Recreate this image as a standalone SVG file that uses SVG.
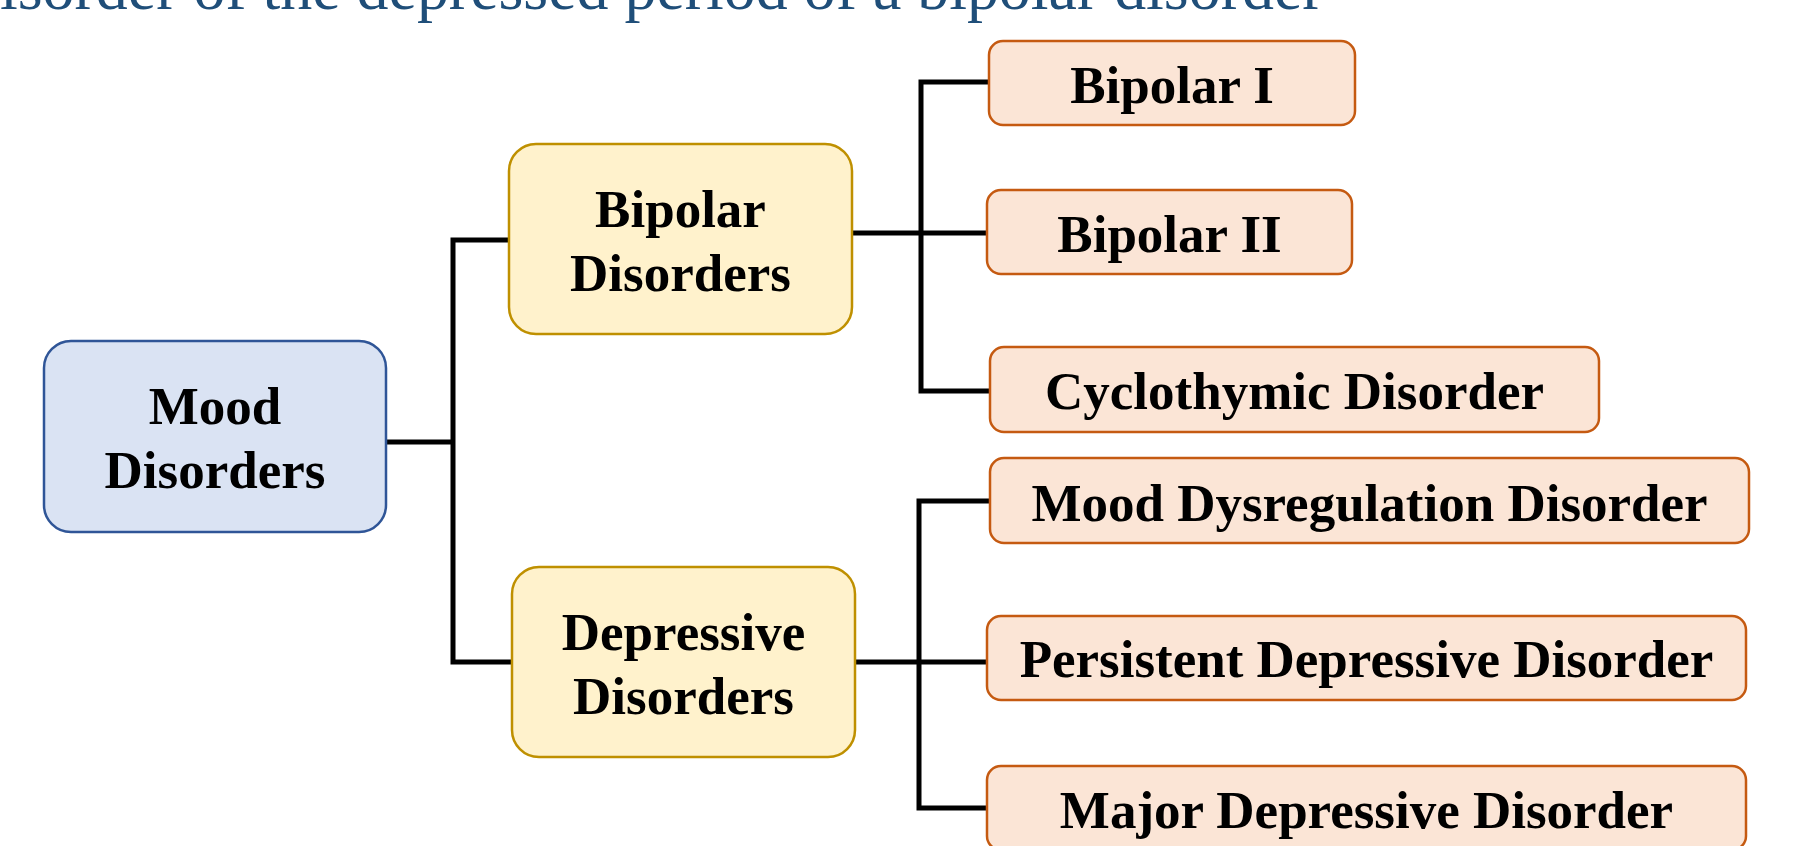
<svg xmlns="http://www.w3.org/2000/svg" width="1817" height="846" viewBox="0 0 1817 846">
<style>
.lbl{font-family:"Liberation Serif","Times New Roman",serif;font-weight:bold;font-size:53px;fill:#000;text-anchor:middle}
.title{font-family:"Liberation Serif","Times New Roman",serif;font-size:63.9px;fill:#1F4E79}
.blue{fill:#DAE3F3;stroke:#2F5597;stroke-width:2.5}
.yel{fill:#FFF2CC;stroke:#BF9000;stroke-width:2.5}
.org{fill:#FBE5D6;stroke:#C55A11;stroke-width:2.5}
.conn{fill:none;stroke:#000;stroke-width:5}
</style>
<rect width="1817" height="846" fill="#fff"/>
<text class="title" x="0" y="9">isorder of the depressed period of a bipolar disorder</text>
<g id="connectors">
<path class="conn" d="M386 442 H453"/>
<path class="conn" d="M509 240 H453 V662 H512"/>
<path class="conn" d="M852 233 H987"/>
<path class="conn" d="M989 82 H921 V391 H990"/>
<path class="conn" d="M855 662 H987"/>
<path class="conn" d="M990 501 H919 V808 H987"/>
</g>
<g id="mood">
<rect class="blue" x="44" y="341" width="342" height="191" rx="27"/>
<text class="lbl" x="215" y="424">Mood</text>
<text class="lbl" x="215" y="488">Disorders</text>
</g>
<g id="bipolar">
<rect class="yel" x="509" y="144" width="343" height="190" rx="27"/>
<text class="lbl" x="680.5" y="227">Bipolar</text>
<text class="lbl" x="680.5" y="291">Disorders</text>
</g>
<g id="depressive">
<rect class="yel" x="512" y="567" width="343" height="190" rx="27"/>
<text class="lbl" x="683.5" y="650">Depressive</text>
<text class="lbl" x="683.5" y="714">Disorders</text>
</g>
<g id="bipolar1">
<rect class="org" x="989" y="41" width="366" height="84" rx="14"/>
<text class="lbl" x="1172" y="103">Bipolar I</text>
</g>
<g id="bipolar2">
<rect class="org" x="987" y="190" width="365" height="84" rx="14"/>
<text class="lbl" x="1169.5" y="252">Bipolar II</text>
</g>
<g id="cyclothymic">
<rect class="org" x="990" y="347" width="609" height="85" rx="14"/>
<text class="lbl" x="1294.5" y="409">Cyclothymic Disorder</text>
</g>
<g id="dysregulation">
<rect class="org" x="990" y="458" width="759" height="85" rx="14"/>
<text class="lbl" x="1369.5" y="521">Mood Dysregulation Disorder</text>
</g>
<g id="persistent">
<rect class="org" x="987" y="616" width="759" height="84" rx="14"/>
<text class="lbl" x="1366.5" y="677">Persistent Depressive Disorder</text>
</g>
<g id="major">
<rect class="org" x="987" y="766" width="759" height="84" rx="14"/>
<text class="lbl" x="1366.5" y="828">Major Depressive Disorder</text>
</g>
</svg>
